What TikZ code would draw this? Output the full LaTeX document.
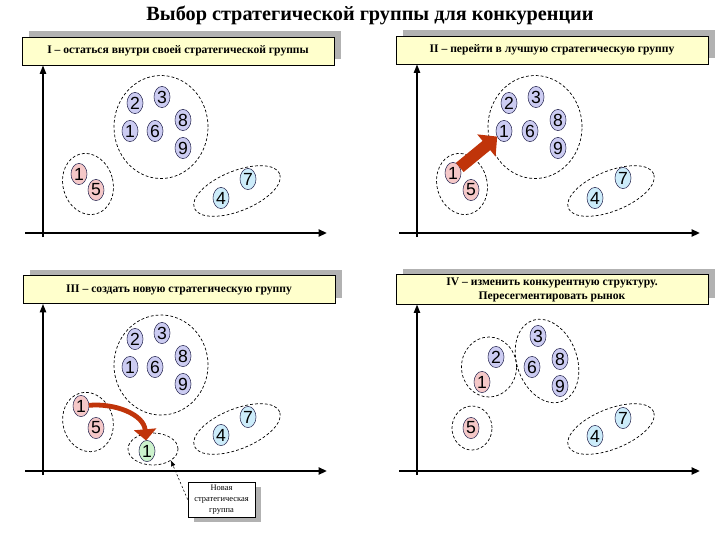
\documentclass[tikz,border=0pt]{standalone}
\usepackage{fontspec}
\setmainfont{Liberation Serif}
\setsansfont{Liberation Sans}
\usepackage{tikz}
\usetikzlibrary{arrows.meta,shapes.geometric,shadows}
\usepackage{xcolor}
\usepackage{tkz-graph}

\definecolor{bluefill}{RGB}{204,204,242}
\definecolor{redfill}{RGB}{245,200,200}
\definecolor{cyanfill}{RGB}{204,236,250}
\definecolor{greenfill}{RGB}{204,242,204}
\definecolor{headfill}{RGB}{255,255,204}
\definecolor{shadowgray}{RGB}{178,178,178}
\definecolor{arrowred}{RGB}{192,52,10}
\definecolor{vertexline}{RGB}{50,50,90}

\tikzset{
  vbase/.style={shape=ellipse, draw=vertexline, line width=0.4pt, inner sep=0pt,
    minimum width=0.4cm, minimum height=0.53cm, text=black,
    font=\sffamily\fontsize{12.5}{13}\selectfont},
  grp/.style={shape=ellipse, draw, dash pattern=on 2pt off 1.5pt, line width=0.5pt, inner sep=0pt},
  headbox/.style={draw, line width=0.6pt, fill=headfill, minimum width=7.8cm, minimum height=0.7cm,
    inner sep=0pt, align=center, font=\bfseries\fontsize{8.25}{10}\selectfont,
    drop shadow={shadow xshift=0.175cm, shadow yshift=0.15cm, fill=shadowgray, opacity=1}},
  notebox/.style={draw, line width=0.5pt, fill=white, minimum width=1.675cm, minimum height=0.875cm,
    inner sep=0pt, align=center, font=\fontsize{6}{7.7}\selectfont,
    drop shadow={shadow xshift=0.15cm, shadow yshift=-0.13cm, fill=shadowgray, opacity=1}},
  xaxis/.style={line width=1.6pt, -{Triangle[length=6pt,width=5pt]}},
  yaxis/.style={line width=1pt, -{Triangle[length=6pt,width=4.5pt]}},
}

\begin{document}
\begin{tikzpicture}[x=0.025cm,y=-0.025cm]
  \useasboundingbox (0,0) rectangle (720,540);
  \SetUpEdge[lw         = 0.5pt,
             color      = black,
             labelcolor = white]
  \GraphInit[vstyle=Normal]
  \SetGraphUnit{1}

  \node[anchor=base, font=\bfseries\fontsize{14.4}{17}\selectfont] (title) at (370,20)
    {Выбор стратегической группы для конкуренции};

  % headers
  \node[headbox] (hA) at (178,51) {I – остаться внутри своей стратегической группы};
  \node[headbox] (hB) at (552,50) {II – перейти в лучшую стратегическую группу};
  \node[headbox] (hC) at (179,289.5) {III – создать новую стратегическую группу};
  \node[headbox, minimum height=0.73cm] (hD) at (552,289.5)
    {IV – изменить конкурентную структуру.\\Пересегментировать рынок};

  % axes
  \coordinate (Ao) at (43,233);
  \coordinate (Bo) at (417,233);
  \coordinate (Co) at (43,471);
  \coordinate (Do) at (417,471);
  \draw[yaxis] (43,237) -- (hA.south -| Ao);
  \draw[xaxis] (25,233) -- (327,233);
  \draw[yaxis] (417,237) -- (hB.south -| Bo);
  \draw[xaxis] (399,233) -- (700,233);
  \draw[yaxis] (43,475) -- (hC.south -| Co);
  \draw[xaxis] (25,471) -- (327,471);
  \draw[yaxis] (417,475) -- (hD.south -| Do);
  \draw[xaxis] (399,471) -- (700,471);

  % groups
  \node[grp, minimum width=2.35cm, minimum height=2.575cm] (AgB) at (161,127) {};
  \node[grp, minimum width=1.25cm, minimum height=1.55cm, rotate=15] (AgR) at (88,184) {};
  \node[grp, minimum width=2.3cm, minimum height=1.0cm, rotate=22] (AgC) at (237,191) {};
  \node[grp, minimum width=2.35cm, minimum height=2.575cm] (BgB) at (535,127) {};
  \node[grp, minimum width=1.25cm, minimum height=1.55cm, rotate=15] (BgR) at (462,184) {};
  \node[grp, minimum width=2.3cm, minimum height=1.0cm, rotate=22] (BgC) at (611,191) {};
  \node[grp, minimum width=2.35cm, minimum height=2.5cm] (CgB) at (161,365) {};
  \node[grp, minimum width=1.25cm, minimum height=1.5cm, rotate=15] (CgR) at (88,422) {};
  \node[grp, minimum width=2.3cm, minimum height=1.0cm, rotate=22] (CgC) at (237,429) {};
  \node[grp, minimum width=1.25cm, minimum height=0.8cm] (CgG) at (153,449) {};
  \node[grp, minimum width=1.375cm, minimum height=1.5cm] (DgL) at (489,367) {};
  \node[grp, minimum width=1.5cm, minimum height=2.15cm, rotate=20] (DgR) at (547,361) {};
  \node[grp, minimum width=1.0cm, minimum height=1.1cm] (DgF) at (472,428) {};
  \node[grp, minimum width=2.3cm, minimum height=1.0cm, rotate=22] (DgC) at (611,429) {};

  % I
  \tikzset{VertexStyle/.style={vbase, fill=bluefill}}
  \Vertex[x=135,y=103,L=2]{Ab2}
  \Vertex[x=162,y=97,L=3]{Ab3}
  \Vertex[x=130,y=131,L=1]{Ab1}
  \Vertex[x=155,y=131,L=6]{Ab6}
  \Vertex[x=183,y=120,L=8]{Ab8}
  \Vertex[x=183,y=148,L=9]{Ab9}
  \tikzset{VertexStyle/.style={vbase, fill=redfill}}
  \Vertex[x=79,y=174,L=1]{Ar1}
  \Vertex[x=96,y=190,L=5]{Ar5}
  \tikzset{VertexStyle/.style={vbase, fill=cyanfill}}
  \Vertex[x=221,y=198,L=4]{Ac4}
  \Vertex[x=248,y=179,L=7]{Ac7}

  % II
  \tikzset{VertexStyle/.style={vbase, fill=bluefill}}
  \Vertex[x=509,y=103,L=2]{Bb2}
  \Vertex[x=536,y=97,L=3]{Bb3}
  \Vertex[x=504,y=131,L=1]{Bb1}
  \Vertex[x=530,y=131,L=6]{Bb6}
  \Vertex[x=558,y=120,L=8]{Bb8}
  \Vertex[x=558,y=148,L=9]{Bb9}
  \tikzset{VertexStyle/.style={vbase, fill=redfill}}
  \Vertex[x=453,y=173,L=1]{Br1}
  \Vertex[x=471,y=190,L=5]{Br5}
  \tikzset{VertexStyle/.style={vbase, fill=cyanfill}}
  \Vertex[x=595,y=198,L=4]{Bc4}
  \Vertex[x=623,y=178,L=7]{Bc7}

  % III
  \tikzset{VertexStyle/.style={vbase, fill=bluefill}}
  \Vertex[x=135,y=339,L=2]{Cb2}
  \Vertex[x=162,y=333,L=3]{Cb3}
  \Vertex[x=130,y=367,L=1]{Cb1}
  \Vertex[x=155,y=367,L=6]{Cb6}
  \Vertex[x=183,y=356,L=8]{Cb8}
  \Vertex[x=183,y=384,L=9]{Cb9}
  \tikzset{VertexStyle/.style={vbase, fill=redfill}}
  \Vertex[x=81,y=406,L=1]{Cr1}
  \Vertex[x=96,y=428,L=5]{Cr5}
  \tikzset{VertexStyle/.style={vbase, fill=cyanfill}}
  \Vertex[x=221,y=435,L=4]{Cc4}
  \Vertex[x=248,y=417,L=7]{Cc7}
  \tikzset{VertexStyle/.style={vbase, fill=greenfill}}
  \Vertex[x=147,y=451,L=1]{Cg1}

  % IV
  \tikzset{VertexStyle/.style={vbase, fill=bluefill}}
  \Vertex[x=496,y=357,L=2]{Db2}
  \Vertex[x=538,y=336,L=3]{Db3}
  \Vertex[x=532,y=367,L=6]{Db6}
  \Vertex[x=560,y=359,L=8]{Db8}
  \Vertex[x=560,y=386,L=9]{Db9}
  \tikzset{VertexStyle/.style={vbase, fill=redfill}}
  \Vertex[x=482,y=382,L=1]{Dr1}
  \Vertex[x=471,y=428,L=5]{Dr5}
  \tikzset{VertexStyle/.style={vbase, fill=cyanfill}}
  \Vertex[x=595,y=436,L=4]{Dc4}
  \Vertex[x=623,y=418,L=7]{Dc7}

  % moves
  \tikzset{EdgeStyle/.style={line width=0.3cm, draw=arrowred,
      -{Triangle[length=0.35cm,width=0.7cm]}}}
    \Edge(Br1)(Bb1)
  \tikzset{EdgeStyle/.style={line width=0.12cm, draw=arrowred, out=5, in=95,
      -{Triangle[length=0.28cm,width=0.55cm]}}}
    \Edge(Cr1)(Cg1)

  % note
  \node[notebox] (note) at (221.5,499.5) {Новая\\стратегическая\\группа};
  \draw[line width=0.4pt, dash pattern=on 1.5pt off 1.5pt, -{Triangle[length=4pt,width=3pt]}]
    (note.west) -- (CgG.south east);
\end{tikzpicture}
\end{document}
